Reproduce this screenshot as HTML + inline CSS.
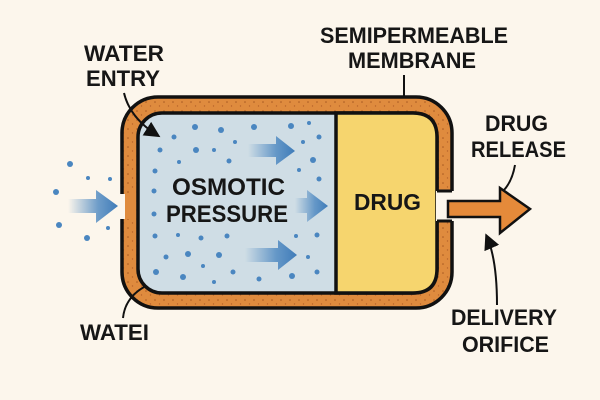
<!DOCTYPE html>
<html><head><style>body{margin:0;background:#fcf6ec}svg{display:block}</style></head><body>
<svg width="600" height="400" viewBox="0 0 600 400" xmlns="http://www.w3.org/2000/svg">
<defs>
<linearGradient id="bg" x1="0" x2="1"><stop offset="0" stop-color="#4a86c0" stop-opacity="0"/><stop offset="0.6" stop-color="#4a86c0" stop-opacity="0.8"/><stop offset="1" stop-color="#3f7bb8"/></linearGradient>
<pattern id="sp" width="9" height="9" patternUnits="userSpaceOnUse"><rect width="9" height="9" fill="#df8b3e"/><circle cx="2" cy="3" r="0.8" fill="#a85a22"/><circle cx="6.5" cy="7" r="0.7" fill="#b8642a"/></pattern>
<marker id="ah" markerWidth="8" markerHeight="8" refX="6" refY="4" orient="auto"><path d="M0,0 L8,4 L0,8 Z" fill="#111"/></marker>
</defs>
<rect width="600" height="400" fill="#fcf6ec"/>
<!-- shell -->
<rect x="122" y="97" width="330" height="211" rx="36" fill="url(#sp)" stroke="#111" stroke-width="3.5"/>
<rect x="138" y="113" width="299" height="180" rx="24" fill="#cfdde5" stroke="#111" stroke-width="3.5"/>
<path d="M336,113 H413 Q437,113 437,137 V269 Q437,293 413,293 H336 Z" fill="#f6d56e" stroke="#111" stroke-width="3.5"/>
<!-- gaps -->
<rect x="118" y="194" width="18" height="25" fill="#fcf6ec"/>
<rect x="124" y="194" width="12" height="25" fill="#df8b3e"/>
<rect x="120" y="194" width="5" height="25" fill="#fcf6ec"/>
<rect x="436" y="191" width="20" height="30" fill="#fcf6ec"/>
<path d="M452,191 H437 M452,221 H437" stroke="#111" stroke-width="3"/>
<!-- orange arrow -->
<path d="M448,201 H500 V188 L530,209 L500,233 V217 H448 Z" fill="#e58a3a" stroke="#111" stroke-width="2.5"/>
<!-- blue arrows -->
<g fill="url(#bg)">
<path d="M68,199 H96 V190 L118,206 L96,223 V213 H68 Z"/>
<path d="M248,144 H276 V136 L295,151 L276,165 V157 H248 Z"/>
<path d="M295,198 H307 V190 L328,206 L307,222 V213 H295 Z"/>
<path d="M245,248 H278 V240 L297,255 L278,270 V262 H245 Z"/>
</g>
<!-- dots -->
<g fill="#4a86c0">
<circle cx="70" cy="164" r="3"/><circle cx="88" cy="178" r="2"/><circle cx="110" cy="179" r="2"/><circle cx="56" cy="192" r="3"/><circle cx="59" cy="225" r="3"/><circle cx="108" cy="228" r="2"/><circle cx="87" cy="238" r="3"/>
<circle cx="195" cy="127" r="3"/><circle cx="221" cy="130" r="3"/><circle cx="254" cy="127" r="3"/><circle cx="291" cy="126" r="3"/><circle cx="309" cy="123" r="2"/><circle cx="174" cy="137" r="2.5"/><circle cx="160" cy="150" r="2.5"/><circle cx="196" cy="150" r="3"/><circle cx="214" cy="150" r="2"/><circle cx="235" cy="142" r="2"/><circle cx="303" cy="142" r="2"/><circle cx="319" cy="137" r="2.5"/><circle cx="313" cy="160" r="3"/><circle cx="179" cy="162" r="2"/><circle cx="229" cy="161" r="2.5"/><circle cx="155" cy="171" r="2.5"/><circle cx="299" cy="170" r="2"/><circle cx="319" cy="179" r="2.5"/><circle cx="154" cy="191" r="2.5"/><circle cx="154" cy="214" r="2.5"/><circle cx="155" cy="236" r="2.5"/><circle cx="178" cy="235" r="2"/><circle cx="201" cy="238" r="2.5"/><circle cx="227" cy="236" r="2.5"/><circle cx="296" cy="236" r="2"/><circle cx="317" cy="235" r="2.5"/><circle cx="166" cy="257" r="2.5"/><circle cx="188" cy="254" r="3"/><circle cx="219" cy="255" r="3"/><circle cx="203" cy="266" r="2"/><circle cx="308" cy="257" r="2"/><circle cx="156" cy="272" r="3"/><circle cx="183" cy="277" r="3"/><circle cx="214" cy="282" r="2"/><circle cx="233" cy="272" r="2.5"/><circle cx="259" cy="279" r="2.5"/><circle cx="292" cy="276" r="3"/><circle cx="317" cy="272" r="2.5"/>
</g>
<!-- leaders -->
<g fill="none" stroke="#111" stroke-width="2">
<path d="M124,93 Q130,118 157,135" marker-end="url(#ah)"/>
<path d="M404,75 V97"/>
<path d="M515,165 Q512,182 503,191"/>
<path d="M497,305 Q497,260 487,237" marker-end="url(#ah)"/>
<path d="M123,318 Q125,298 144,287"/>
</g>
<!-- text -->
<g font-family="Liberation Sans, sans-serif" font-weight="bold" fill="#161616">
<text x="84" y="61" font-size="22" textLength="80" lengthAdjust="spacingAndGlyphs">WATER</text>
<text x="86" y="86" font-size="22" textLength="74" lengthAdjust="spacingAndGlyphs">ENTRY</text>
<text x="320" y="43" font-size="22" textLength="188" lengthAdjust="spacingAndGlyphs">SEMIPERMEABLE</text>
<text x="348" y="68" font-size="22" textLength="128" lengthAdjust="spacingAndGlyphs">MEMBRANE</text>
<text x="485" y="131" font-size="22" textLength="63" lengthAdjust="spacingAndGlyphs">DRUG</text>
<text x="471" y="157" font-size="22" textLength="95" lengthAdjust="spacingAndGlyphs">RELEASE</text>
<text x="172" y="195" font-size="24" textLength="113" lengthAdjust="spacingAndGlyphs">OSMOTIC</text>
<text x="166" y="222" font-size="24" textLength="122" lengthAdjust="spacingAndGlyphs">PRESSURE</text>
<text x="354" y="210" font-size="23" textLength="67" lengthAdjust="spacingAndGlyphs">DRUG</text>
<text x="80" y="340" font-size="22" textLength="69" lengthAdjust="spacingAndGlyphs">WATEI</text>
<text x="451" y="325" font-size="22" textLength="106" lengthAdjust="spacingAndGlyphs">DELIVERY</text>
<text x="462" y="352" font-size="22" textLength="87" lengthAdjust="spacingAndGlyphs">ORIFICE</text>
</g>
</svg>
</body></html>
